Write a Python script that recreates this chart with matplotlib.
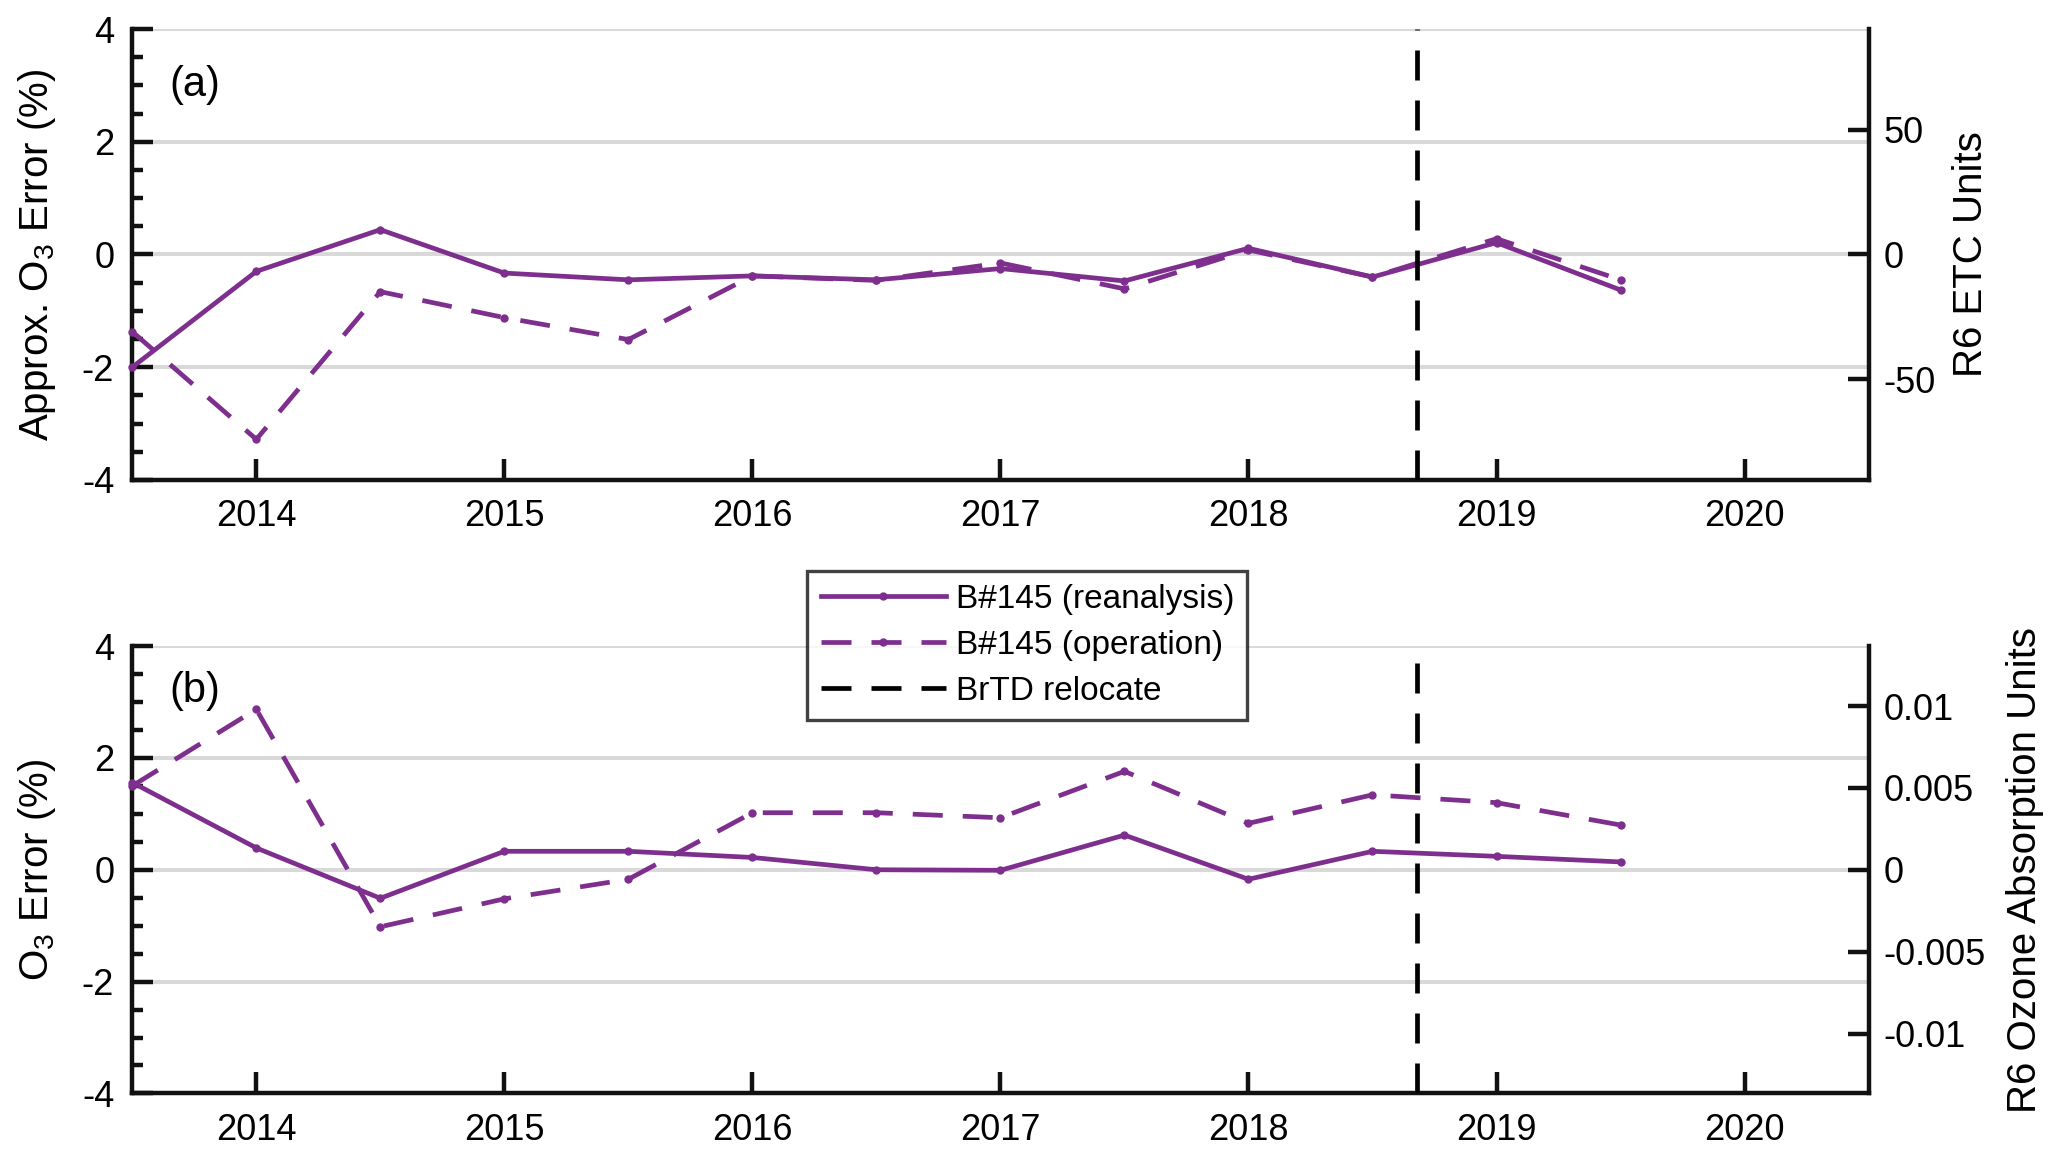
import matplotlib
matplotlib.use("Agg")
import matplotlib.pyplot as plt
from matplotlib.ticker import MultipleLocator, FixedLocator, FuncFormatter
from matplotlib.lines import Line2D

plt.rcParams['font.family'] = ['Liberation Sans', 'DejaVu Sans']
plt.rcParams['mathtext.fontset'] = 'custom'
plt.rcParams['mathtext.rm'] = 'Liberation Sans'
plt.rcParams['mathtext.it'] = 'Liberation Sans'
plt.rcParams['axes.unicode_minus'] = False
plt.rcParams['lines.scale_dashes'] = False

# ---- data ----
dates = [2013.5, 2014.0, 2014.5, 2015.0, 2015.5, 2016.0, 2016.5,
         2017.0, 2017.5, 2018.0, 2018.5, 2019.0, 2019.5]
a_reanalysis = [-2.0, -0.30, 0.44, -0.33, -0.45, -0.38, -0.45,
                -0.25, -0.47, 0.11, -0.40, 0.21, -0.63]
a_operation = [-1.37, -3.28, -0.66, -1.12, -1.51, -0.38, -0.46,
               -0.15, -0.61, 0.08, -0.40, 0.28, -0.45]
b_reanalysis = [1.56, 0.39, -0.51, 0.33, 0.33, 0.22, 0.00,
                -0.01, 0.62, -0.17, 0.33, 0.24, 0.14]
b_operation = [1.50, 2.87, -1.02, -0.52, -0.17, 1.02, 1.02,
               0.93, 1.76, 0.83, 1.34, 1.20, 0.80]
relocate_date = 2018.68
year_ticks = [2014, 2015, 2016, 2017, 2018, 2019, 2020]
etc_per_pct = 22.6
abs_per_pct = 0.003415
etc_ticks = [-50, 0, 50]
abs_ticks = [-0.01, -0.005, 0, 0.005, 0.01]

purple = '#7E2F8E'
ink = '#111111'
W, H = 2067, 1162
fig = plt.figure(figsize=(W / 100, H / 100), dpi=100)

left, right = 0.064, 0.904
ax_a = fig.add_axes([left, 0.587, right - left, 0.975 - 0.587])
ax_b = fig.add_axes([left, 0.059, right - left, 0.444 - 0.059])

FS = 26
LFS = 29
LW = 3.4
SW = 3.2
dash = (0, (21.6, 14.4))


def style(ax, label, right_label, rscale, rticks, panel_text, text_y, rx):
    ax.set_xlim(2013.5, 2020.5)
    ax.set_ylim(-4, 4)
    ax.yaxis.set_major_locator(MultipleLocator(2))
    ax.yaxis.set_minor_locator(MultipleLocator(0.5))
    ax.xaxis.set_major_locator(FixedLocator(year_ticks))
    ax.xaxis.set_major_formatter(FuncFormatter(lambda v, p: f"{int(round(v))}"))
    ax.yaxis.set_major_formatter(FuncFormatter(lambda v, p: f"{v:g}"))
    ax.yaxis.grid(True, which='major', color='#d9d9d9', lw=2.9)
    ax.set_axisbelow(True)
    for s in ['top', 'right']:
        ax.spines[s].set_visible(False)
    for s in ['left', 'bottom']:
        ax.spines[s].set_linewidth(SW)
        ax.spines[s].set_color(ink)
    ax.tick_params(axis='both', which='major', direction='in', length=15,
                   width=SW, labelsize=FS, color=ink)
    ax.tick_params(axis='y', which='minor', direction='in', length=8, width=SW,
                   color=ink)
    ax.tick_params(axis='x', which='major', pad=14)
    ax.tick_params(axis='y', which='major', pad=13)
    ax.set_ylabel(label, fontsize=LFS, va='center')
    ax.yaxis.set_label_coords(-0.055, 0.5)
    ax.text(2013.65, text_y, panel_text, fontsize=30, ha='left', va='center')

    ax2 = ax.twinx()
    ax2.set_ylim(-4 * rscale, 4 * rscale)
    ax2.yaxis.set_major_locator(FixedLocator(rticks))
    ax2.yaxis.set_major_formatter(FuncFormatter(lambda v, p: f"{v:g}"))
    for s in ['top', 'left', 'bottom']:
        ax2.spines[s].set_visible(False)
    ax2.spines['right'].set_linewidth(SW)
    ax2.spines['right'].set_color(ink)
    ax2.tick_params(axis='y', which='major', direction='in', length=15,
                    width=SW, labelsize=FS, pad=11, color=ink)
    ax2.set_ylabel(right_label, fontsize=LFS, va='center')
    ax2.yaxis.set_label_coords(rx, 0.5)
    return ax2


style(ax_a, 'Approx. O$_3$ Error (%)', 'R6 ETC Units', etc_per_pct, etc_ticks,
      '(a)', 3.0, 1.059)
style(ax_b, 'O$_3$ Error (%)', 'R6 Ozone Absorption Units', abs_per_pct, abs_ticks,
      '(b)', 3.2, 1.090)

for ax, rea, op in [(ax_a, a_reanalysis, a_operation), (ax_b, b_reanalysis, b_operation)]:
    ax.plot(dates, rea, color=purple, lw=LW, marker='.', ms=10, clip_on=False, zorder=3)
    ax.plot(dates, op, color=purple, lw=LW, marker='.', ms=10, ls=dash, clip_on=False, zorder=3)
    ax.axvline(relocate_date, color='black', lw=LW, ls=dash, zorder=4)

handles = [
    Line2D([], [], color=purple, lw=LW, marker='.', ms=10),
    Line2D([], [], color=purple, lw=LW, marker='.', ms=10, ls=dash),
    Line2D([], [], color='black', lw=LW, ls=dash),
]
labels = ['B#145 (reanalysis)', 'B#145 (operation)', 'BrTD relocate']
leg = fig.legend(handles, labels, loc='center', bbox_to_anchor=(0.497, 0.4445),
                 fontsize=24, frameon=True, fancybox=False, edgecolor=ink,
                 handlelength=3.75, handletextpad=0.3, borderpad=0.4,
                 labelspacing=0.45, borderaxespad=0)
leg.get_frame().set_linewidth(2.4)
leg.set_zorder(10)

fig.savefig('out.png', dpi=100, facecolor='white')
